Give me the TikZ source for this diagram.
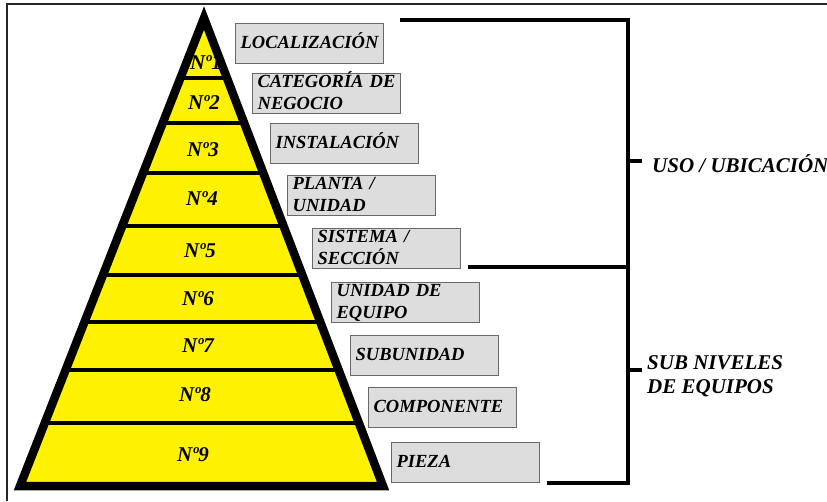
\documentclass[tikz,border=0pt]{standalone}
\usepackage{fontspec}
\setmainfont{Liberation Serif}
\definecolor{pyryellow}{RGB}{255,242,0}
\definecolor{boxgray}{RGB}{221,221,221}
\definecolor{boxedge}{RGB}{105,105,105}
\begin{document}
\begin{tikzpicture}[x=1pt,y=-1pt,
  lvl/.style={font=\fontsize{21}{23}\selectfont\bfseries\itshape, inner sep=0pt},
  tag/.style={draw=boxedge, line width=1.3pt, fill=boxgray, minimum width=148pt,
    minimum height=40pt, text width=138pt, inner xsep=5pt, inner ysep=1pt,
    align=left, anchor=north west, font=\fontsize{18.5}{22}\selectfont\bfseries\itshape},
  oneline/.style={tag, text height=13pt, text depth=4pt},
  twoline/.style={tag, text height=13pt, text depth=25pt},
  group/.style={font=\fontsize{21}{24}\selectfont\bfseries\itshape, align=left, inner sep=0pt},
  edge/.style={line width=8.5pt, line join=miter},
  divider/.style={line width=4.5pt},
  brace/.style={line width=4.5pt, line join=miter},
  frame/.style={line width=2pt, black!85}
]
\useasboundingbox (0,0) rectangle (827,501);
\clip (0,0) rectangle (827,501);

% outer frame (top and left sides)
\draw[frame] (7,501) -- (7,4) -- (827,4);

% pyramid
\coordinate (apex) at (204,18);
\coordinate (bl) at (20,486);
\coordinate (br) at (383,486);
\fill[pyryellow] (apex) -- (bl) -- (br) -- cycle;
\begin{scope}
  \clip (apex) -- (bl) -- (br) -- cycle;
  \foreach \y in {78,123,173,226,275,322,370,423}
    \draw[divider] (0,\y) -- (420,\y);
\end{scope}
\draw[edge] (apex) -- (bl) -- (br) -- cycle;

% level numbers
\foreach \i/\x/\y in {1/206/63, 2/204/103, 3/203/150, 4/202/199, 5/200/251,
                      6/198/299, 7/198/346, 8/195/395, 9/193/455}
  \node[lvl] (n\i) at (\x,\y) {Nº\i};

% level names
\node[oneline] (b1) at (235,23)  {LOCALIZACIÓN};
\node[twoline] (b2) at (252,73)  {CATEGORÍA DE\\NEGOCIO};
\node[oneline] (b3) at (270,123) {INSTALACIÓN};
\node[twoline] (b4) at (287,175) {PLANTA /\\UNIDAD};
\node[twoline] (b5) at (312,228) {SISTEMA /\\SECCIÓN};
\node[twoline] (b6) at (331,282) {UNIDAD DE\\EQUIPO};
\node[oneline] (b7) at (350,335) {SUBUNIDAD};
\node[oneline] (b8) at (368,387) {COMPONENTE};
\node[oneline] (b9) at (391,442) {PIEZA};

% grouping brackets
\coordinate (t1) at (400,20);
\coordinate (t2) at (468,267);
\coordinate (t3) at (547,483);
\coordinate (bt) at (628,20);
\coordinate (bm) at (628,267);
\coordinate (bb) at (628,483);
\coordinate (k1) at (628,161);
\coordinate (k1e) at (642,161);
\coordinate (k2) at (628,370);
\coordinate (k2e) at (642,370);
\draw[brace] (t1) -- (bt) -- (bb) -- (t3);
\draw[brace] (t2) -- (bm);
\draw[brace] (k1) -- (k1e);
\draw[brace] (k2) -- (k2e);

\node[group, anchor=base west] (g1) at (652,172) {USO / UBICACIÓN};
\node[group, anchor=north west] (g2) at (647,355) {SUB NIVELES\\DE EQUIPOS};
\end{tikzpicture}
\end{document}
